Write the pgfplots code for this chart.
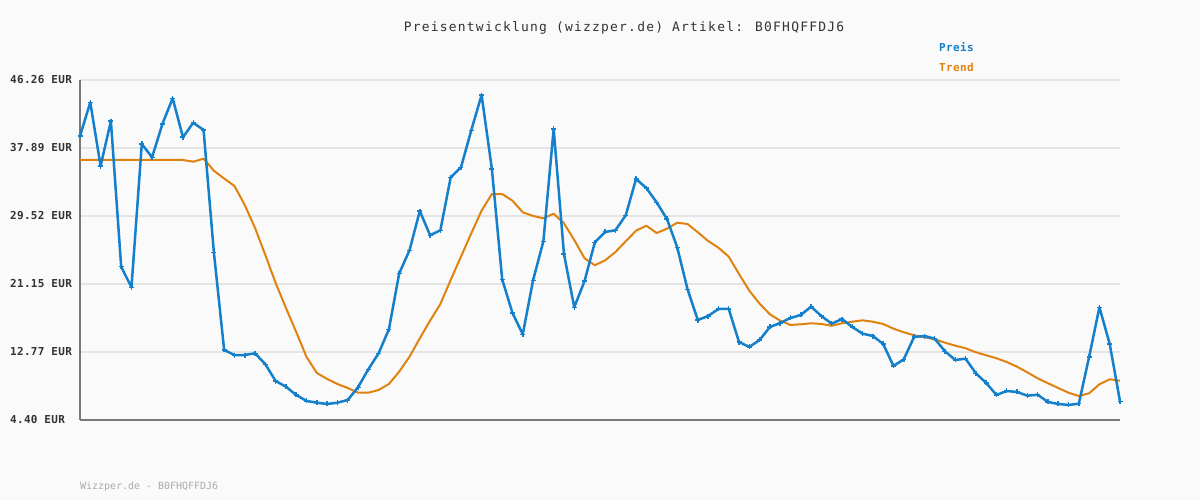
\documentclass[border=0pt]{standalone}
\usepackage{fontspec}
\usepackage{pgfplots}
\pgfplotsset{compat=1.18}
\usepackage{pgfplotstable}
\newfontfamily\titlefont[LetterSpace=9.5]{DejaVu Sans Mono}
\newfontfamily\tickfont[LetterSpace=3]{DejaVu Sans Mono}
\newfontfamily\legfont[LetterSpace=3.5]{DejaVu Sans Mono}
\newfontfamily\footfont{DejaVu Sans Mono}
\definecolor{bg}{HTML}{FAFAFA}
\definecolor{preis}{HTML}{1480CC}
\definecolor{trend}{HTML}{E0820F}
\definecolor{gridc}{HTML}{E4E4E4}
\definecolor{axc}{HTML}{787878}
\definecolor{txt}{HTML}{333333}
\definecolor{foot}{HTML}{AAAAAA}

\pgfplotstableread{
i preis trend
0 39.37 36.41
1 43.51 36.41
2 35.67 36.41
3 41.21 36.41
4 23.27 36.41
5 20.74 36.41
6 38.38 36.41
7 36.74 36.41
8 40.84 36.41
9 44.01 36.41
10 39.21 36.41
11 41.00 36.20
12 40.10 36.57
13 25.05 35.09
14 13.02 34.13
15 12.40 33.21
16 12.40 30.87
17 12.61 28.04
18 11.26 24.71
19 9.20 21.27
20 8.50 18.19
21 7.48 15.23
22 6.74 12.16
23 6.53 10.19
24 6.37 9.45
25 6.53 8.83
26 6.86 8.34
27 8.43 7.76
28 10.64 7.76
29 12.61 8.09
30 15.57 8.83
31 22.46 10.35
32 25.29 12.19
33 30.13 14.46
34 27.14 16.63
35 27.76 18.68
36 34.28 21.64
37 35.51 24.51
38 40.07 27.39
39 44.41 30.17
40 35.30 32.22
41 21.72 32.22
42 17.57 31.40
43 14.95 29.97
44 21.60 29.52
45 26.40 29.23
46 40.23 29.80
47 24.84 28.62
48 18.28 26.56
49 21.51 24.31
50 26.28 23.45
51 27.55 24.06
52 27.76 25.08
53 29.60 26.40
54 34.07 27.71
55 32.96 28.32
56 31.20 27.42
57 29.15 27.95
58 25.66 28.69
59 20.49 28.53
60 16.71 27.51
61 17.20 26.44
62 18.07 25.61
63 18.07 24.51
64 14.00 22.38
65 13.39 20.32
66 14.25 18.72
67 15.85 17.41
68 16.34 16.63
69 16.96 16.10
70 17.33 16.18
71 18.35 16.31
72 17.20 16.22
73 16.26 16.01
74 16.83 16.31
75 15.85 16.50
76 15.03 16.67
77 14.74 16.50
78 13.76 16.22
79 11.05 15.64
80 11.87 15.20
81 14.62 14.83
82 14.74 14.58
83 14.41 14.34
84 12.86 13.92
85 11.79 13.55
86 11.95 13.23
87 10.15 12.74
88 8.96 12.37
89 7.48 12.00
90 7.97 11.54
91 7.85 10.96
92 7.39 10.27
93 7.51 9.53
94 6.62 8.92
95 6.37 8.34
96 6.25 7.76
97 6.41 7.35
98 12.16 7.69
99 18.28 8.80
100 13.76 9.41
101 6.70 9.24
}\pricedata

\begin{document}
\begin{tikzpicture}[x=1bp,y=1bp]
\fill[bg] (0,0) rectangle (1200,500);
\useasboundingbox (0,0) rectangle (1200,500);
\begin{axis}[
  at={(80bp,80bp)}, anchor=south west,
  scale only axis, width=1040bp, height=340bp,
  xmin=0, xmax=101, ymin=4.40, ymax=46.26,
  axis x line=bottom, axis y line=left,
  axis line style={-, draw=axc, line width=2bp},
  xtick=\empty,
  ytick={4.40,12.77,21.15,29.52,37.89,46.26},
  yticklabels={4.40 EUR,12.77 EUR,21.15 EUR,29.52 EUR,37.89 EUR,46.26 EUR},
  yticklabel style={font=\tickfont\bfseries\fontsize{11}{13}\selectfont, text=txt, inner sep=0pt, anchor=west, xshift=-70bp},
  major tick length=0pt,
  ymajorgrids, grid style={draw=gridc, line width=2bp},
  clip=false,
]
\addplot[trend, line width=2bp, line join=round, no marks] table[x=i, y=trend] {\pricedata};
\addplot[preis, line width=2.5bp, line join=round, mark=+, mark size=2.5bp, mark options={line width=1.5bp}] table[x=i, y=preis] {\pricedata};
\end{axis}
\node[font=\titlefont\fontsize{13}{15}\selectfont, text=txt, inner sep=0pt] at (624,472) {Preisentwicklung (wizzper.de) Artikel: B0FHQFFDJ6};
\node[font=\legfont\bfseries\fontsize{11}{13}\selectfont, text=preis, anchor=west, inner sep=0pt] at (939,453) {Preis};
\node[font=\legfont\bfseries\fontsize{11}{13}\selectfont, text=trend, anchor=west, inner sep=0pt] at (939,433) {Trend};
\node[font=\footfont\fontsize{10}{12}\selectfont, text=foot, anchor=west, inner sep=0pt] at (80,13) {Wizzper.de - B0FHQFFDJ6};
\end{tikzpicture}
\end{document}
